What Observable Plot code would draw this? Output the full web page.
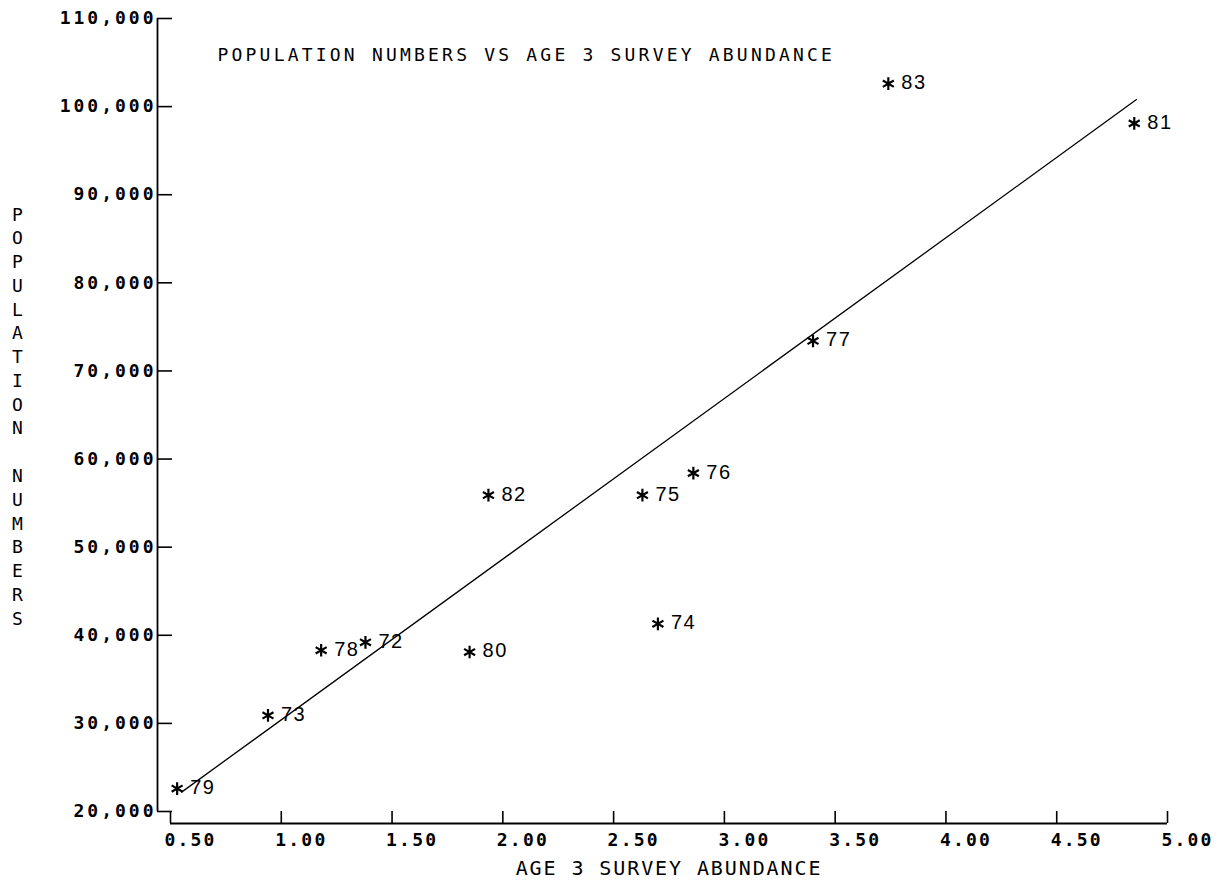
<!DOCTYPE html>
<html>
<head>
<meta charset="utf-8">
<script src="https://cdn.jsdelivr.net/npm/d3@7"></script>
<script src="https://cdn.jsdelivr.net/npm/@observablehq/plot@0.6"></script>
<style>
  html, body { margin: 0; padding: 0; background: #fff; }
  g[aria-label="y-axis tick label"] text { letter-spacing: 3px; }
  g[aria-description="x tick labels"] text { letter-spacing: 2.2px; }
  g[aria-description="title"] text { letter-spacing: 3.2px; }
  g[aria-description="x title"] text { letter-spacing: 1.9px; }
  g[aria-description="year labels"] text { letter-spacing: 1.5px; }
</style>
</head>
<body>
<div id="chart"></div>
<script>
// ---- data ----
const years      = ["72", "73", "74", "75", "76", "77", "78", "79", "80", "81", "82", "83"];
const abundance  = [1.38, 0.94, 2.70, 2.63, 2.86, 3.40, 1.18, 0.53, 1.85, 4.85, 1.935, 3.74];
const population = [39200, 30900, 41300, 55900, 58400, 73400, 38300, 22600, 38100, 98100, 55900, 102600];

// fitted regression line end points
const fitX = [0.55, 4.86];
const fitY = [22200, 100800];

const xDomain = [0.5, 5.0];
const yDomain = [20000, 110000];
const xTicks = [0.5, 1.0, 1.5, 2.0, 2.5, 3.0, 3.5, 4.0, 4.5, 5.0];
const yTicks = [20000, 30000, 40000, 50000, 60000, 70000, 80000, 90000, 100000, 110000];

const titleText = "POPULATION NUMBERS VS AGE 3 SURVEY ABUNDANCE";
const xTitle = "AGE 3 SURVEY ABUNDANCE";
const yTitle = "POPULATION NUMBERS";

const points = years.map((yr, i) => ({year: yr, x: abundance[i], y: population[i]}));
const fit = fitX.map((x, i) => ({x, y: fitY[i]}));

const mono = "DejaVu Sans Mono";
const sans = "Liberation Sans";

const chart = Plot.plot({
  width: 1226,
  height: 881,
  marginLeft: 170,
  marginRight: 59,
  marginTop: 18,
  marginBottom: 70,
  style: {background: "#fff", color: "#000", fontFamily: mono},
  x: {domain: xDomain},
  y: {domain: yDomain},
  marks: [
    // y axis line (offset left of the frame)
    Plot.ruleX([xDomain[0]], {y1: () => yDomain[0], y2: () => yDomain[1], dx: -13, stroke: "#000", strokeWidth: 1.8}),
    // x axis line (offset below the frame)
    Plot.ruleY([yDomain[0]], {x1: () => xDomain[0], x2: () => xDomain[1], dy: 12, stroke: "#000", strokeWidth: 1.8}),
    // y ticks + labels
    Plot.axisY(yTicks, {
      anchor: "left", tickSize: 15, tickPadding: 1, dx: 2,
      tickFormat: d3.format(","), label: null,
      fontFamily: mono, fontSize: 18, fontWeight: "bold", strokeWidth: 1.6
    }),
    // x ticks (pointing up from the axis line)
    Plot.axisX(xTicks, {anchor: "bottom", tickSize: 12, fill: "none", label: null, strokeWidth: 1.6}),
    // x tick labels, left-aligned at tick
    Plot.text(xTicks, {
      x: d => d, text: d => d3.format(".2f")(d),
      frameAnchor: "bottom", dy: 22, dx: -6, textAnchor: "start", lineAnchor: "top",
      fontFamily: mono, fontSize: 18, fontWeight: "bold", fill: "#000",
      ariaDescription: "x tick labels"
    }),
    // regression line
    Plot.line(fit, {x: "x", y: "y", stroke: "#000", strokeWidth: 1.3}),
    // points
    Plot.dot(points, {x: "x", y: "y", symbol: "asterisk", r: 6, stroke: "#000", strokeWidth: 2.2}),
    Plot.text(points, {
      x: "x", y: "y", text: "year", dx: 13, dy: -1, textAnchor: "start", lineAnchor: "middle",
      fontFamily: sans, fontSize: 20, fill: "#000", ariaDescription: "year labels"
    }),
    // title inside the plot
    Plot.text([titleText], {
      frameAnchor: "top-left", dx: 47, dy: 37, textAnchor: "start", lineAnchor: "middle",
      fontFamily: mono, fontSize: 18, fill: "#000", ariaDescription: "title"
    }),
    // x axis title
    Plot.text([xTitle], {
      frameAnchor: "bottom", dy: 57, lineAnchor: "middle",
      fontFamily: mono, fontSize: 20, fill: "#000", ariaDescription: "x title"
    }),
    // y axis title, letters stacked vertically
    Plot.text([yTitle.split("").join("\n")], {
      frameAnchor: "left", dx: -153, lineAnchor: "middle", textAnchor: "middle",
      lineHeight: 1.32, fontFamily: mono, fontSize: 18, fill: "#000", ariaDescription: "y title"
    })
  ]
});

document.getElementById("chart").appendChild(chart);
</script>
</body>
</html>
